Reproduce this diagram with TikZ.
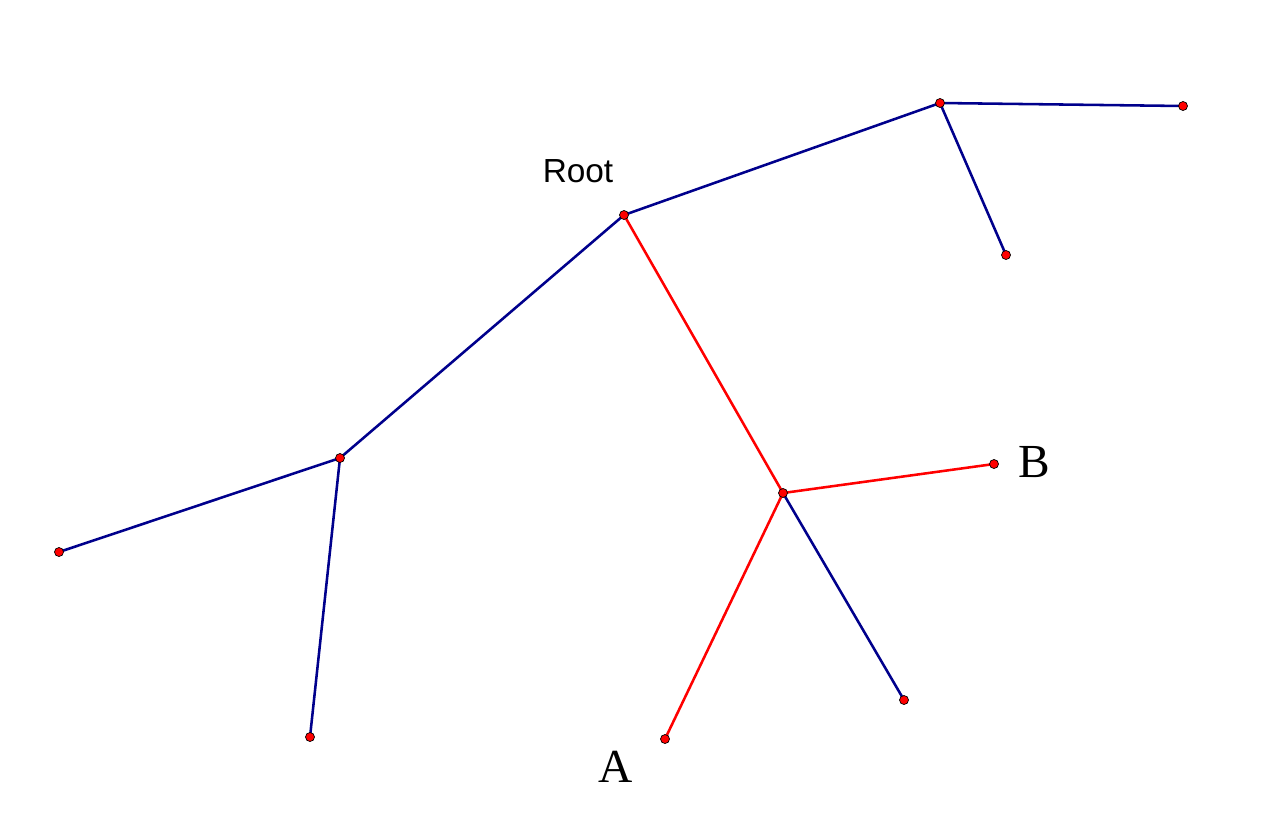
\documentclass[tikz,border=0pt]{standalone}
\usepackage{fontspec}
\setmainfont{Liberation Serif}
\setsansfont{Liberation Sans}
\usepackage{xcolor}
\usepackage{tikz}
\definecolor{treeblue}{RGB}{0,0,140}
\definecolor{pathred}{RGB}{255,0,0}

\begin{document}
\begin{tikzpicture}[x=0.02cm,y=-0.02cm,
    branch/.style={line width=1.45pt, treeblue},
    pathedge/.style={line width=1.45pt, pathred},
    vertex/.style={circle, fill=pathred, draw=black, line width=0.4pt, inner sep=0pt, minimum size=0.18cm}]
  \useasboundingbox (0,0) rectangle (1287,829);

  %% Tree vertices
  \coordinate (root) at (624,215);
  \coordinate (top) at (940,103);
  \coordinate (topright) at (1183,106);
  \coordinate (topdown) at (1006,255);
  \coordinate (left) at (340,458);
  \coordinate (leftleaf) at (59,552);
  \coordinate (leftdown) at (310,737);
  \coordinate (mid) at (783,493);
  \coordinate (b) at (994,464);
  \coordinate (a) at (665,739);
  \coordinate (midleaf) at (904,700);

  %% Blue edges
  \draw[branch] (root) -- (top);
  \draw[branch] (top) -- (topright);
  \draw[branch] (top) -- (topdown);
  \draw[branch] (root) -- (left);
  \draw[branch] (left) -- (leftleaf);
  \draw[branch] (left) -- (leftdown);
  \draw[branch] (mid) -- (midleaf);

  %% Red path from A to B
  \draw[pathedge] (root) -- (mid);
  \draw[pathedge] (mid) -- (b);
  \draw[pathedge] (mid) -- (a);

  %% Dots on top
  \foreach \v in {root,top,topright,topdown,left,leftleaf,leftdown,mid,b,a,midleaf}
    \node[vertex] (dot-\v) at (\v) {};

  %% Labels
  \node[font=\sffamily\fontsize{19}{21}\selectfont] (rootlabel) at (578,171) {Root};
  \node[font=\fontsize{27}{30}\selectfont] (blabel) at (1034,462) {B};
  \node[font=\fontsize{27}{30}\selectfont] (alabel) at (616,767) {A};
\end{tikzpicture}
\end{document}
